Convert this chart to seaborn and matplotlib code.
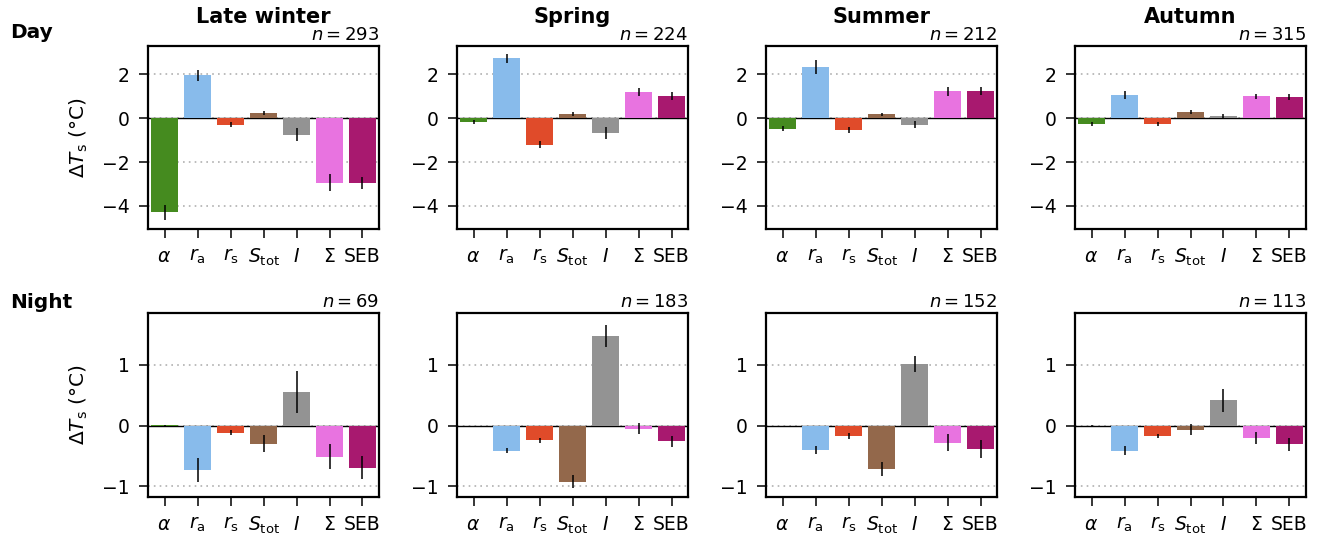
import numpy as np
import pandas as pd
import matplotlib
matplotlib.use("Agg")
import matplotlib.pyplot as plt
import seaborn as sns

sns.set_theme(style="white")
plt.rcParams['font.family'] = ['DejaVu Sans']
plt.rcParams['mathtext.fontset'] = 'dejavusans'
for k in ["text.color", "axes.labelcolor", "xtick.color", "ytick.color"]:
    plt.rcParams[k] = "black"

components = ["alpha", "ra", "rs", "Stot", "I", "Sigma", "SEB"]
tick_labels = [r"$\alpha$", r"$r_\mathrm{a}$", r"$r_\mathrm{s}$", r"$S_\mathrm{tot}$",
               r"$I$", r"$\Sigma$", "SEB"]
colors = ["#458B1F", "#88BBEB", "#E04B2A", "#93684B", "#939393", "#E873E0", "#A8196F"]
seasons = ["Late winter", "Spring", "Summer", "Autumn"]

# Day values and errors
day_late_winter = [-4.29, 1.95, -0.30, 0.23, -0.76, -2.94, -2.94]
day_late_winter_err = [0.34, 0.25, 0.11, 0.09, 0.30, 0.38, 0.28]
day_spring = [-0.17, 2.73, -1.21, 0.18, -0.67, 1.18, 1.00]
day_spring_err = [0.10, 0.20, 0.16, 0.09, 0.28, 0.19, 0.18]
day_summer = [-0.48, 2.32, -0.53, 0.18, -0.30, 1.23, 1.23]
day_summer_err = [0.10, 0.31, 0.14, 0.07, 0.17, 0.20, 0.18]
day_autumn = [-0.26, 1.05, -0.26, 0.27, 0.09, 1.00, 0.95]
day_autumn_err = [0.10, 0.19, 0.09, 0.08, 0.09, 0.12, 0.13]
day_n = [293, 224, 212, 315]

# Night values and errors
night_late_winter = [0.005, -0.725, -0.115, -0.30, 0.555, -0.51, -0.69]
night_late_winter_err = [0.01, 0.20, 0.045, 0.14, 0.35, 0.21, 0.19]
night_spring = [-0.01, -0.41, -0.24, -0.92, 1.48, -0.05, -0.26]
night_spring_err = [0.01, 0.045, 0.04, 0.10, 0.18, 0.09, 0.09]
night_summer = [-0.01, -0.40, -0.165, -0.71, 1.02, -0.28, -0.38]
night_summer_err = [0.01, 0.06, 0.05, 0.115, 0.13, 0.14, 0.15]
night_autumn = [-0.005, -0.41, -0.165, -0.066, 0.42, -0.20, -0.31]
night_autumn_err = [0.01, 0.07, 0.035, 0.085, 0.19, 0.10, 0.11]
night_n = [69, 183, 152, 113]

day_vals = [day_late_winter, day_spring, day_summer, day_autumn]
day_errs = [day_late_winter_err, day_spring_err, day_summer_err, day_autumn_err]
night_vals = [night_late_winter, night_spring, night_summer, night_autumn]
night_errs = [night_late_winter_err, night_spring_err, night_summer_err, night_autumn_err]

W, H = 1322, 537
fig = plt.figure(figsize=(W / 100, H / 100), dpi=100)

lefts = [148, 457, 766, 1075]
aw = 231
rows = [(45.7, 229.0), (313.3, 496.7)]
ylims = [(-5.05, 3.3), (-1.17, 1.85)]
yticks = [[-4, -2, 0, 2], [-1, 0, 1]]

palette = dict(zip(components, colors))

for r, (vals_set, errs_set, nset) in enumerate([(day_vals, day_errs, day_n),
                                                 (night_vals, night_errs, night_n)]):
    top, bot = rows[r]
    for c in range(4):
        ax = fig.add_axes([lefts[c] / W, 1 - bot / H, aw / W, (bot - top) / H])
        df = pd.DataFrame({"comp": components, "val": vals_set[c]})
        ax.axhline(0, color="black", lw=1.0, zorder=0.5)
        for yt in yticks[r]:
            ax.axhline(yt, color="#b0b0b0", lw=1.2, ls=(0, (1, 2.5)), zorder=0.4)
        sns.barplot(data=df, x="comp", y="val", hue="comp", palette=palette,
                    order=components, hue_order=components, legend=False,
                    width=0.8, ax=ax, zorder=2, saturation=1, linewidth=0)
        ax.errorbar(np.arange(len(components)), vals_set[c], yerr=errs_set[c],
                    fmt="none", ecolor="black", elinewidth=1.1, capsize=0, zorder=3)
        ax.set_ylim(*ylims[r])
        ax.set_xlim(-0.5, 6.5)
        ax.set_yticks(yticks[r])
        ax.set_yticklabels([("\u2212" + str(abs(t))) if t < 0 else str(t) for t in yticks[r]])
        ax.set_xticks(range(len(components)))
        ax.set_xticklabels(tick_labels)
        ax.tick_params(axis="both", which="major", labelsize=13.5, length=6.5, width=1.1,
                       direction="out", color="black", left=True, bottom=True, pad=6.5)
        ax.set_xlabel("")
        if c == 0:
            ax.set_ylabel(r"$\Delta T_\mathrm{s}$ (°C)", fontsize=14.5, labelpad=9)
        else:
            ax.set_ylabel("")
        for sp in ax.spines.values():
            sp.set_color("black")
            sp.set_linewidth(1.6)
        ax.text(1.0, 1.01, r"$n = %d$" % nset[c], transform=ax.transAxes,
                ha="right", va="bottom", fontsize=13)
        if r == 0:
            ax.set_title(seasons[c], fontsize=15, fontweight="bold", pad=16)

fig.text(10 / W, 1 - 33 / H, "Day", fontsize=14.5, fontweight="bold", ha="left", va="center")
fig.text(10 / W, 1 - 302 / H, "Night", fontsize=14.5, fontweight="bold", ha="left", va="center")

fig.savefig("out.png", dpi=100)
